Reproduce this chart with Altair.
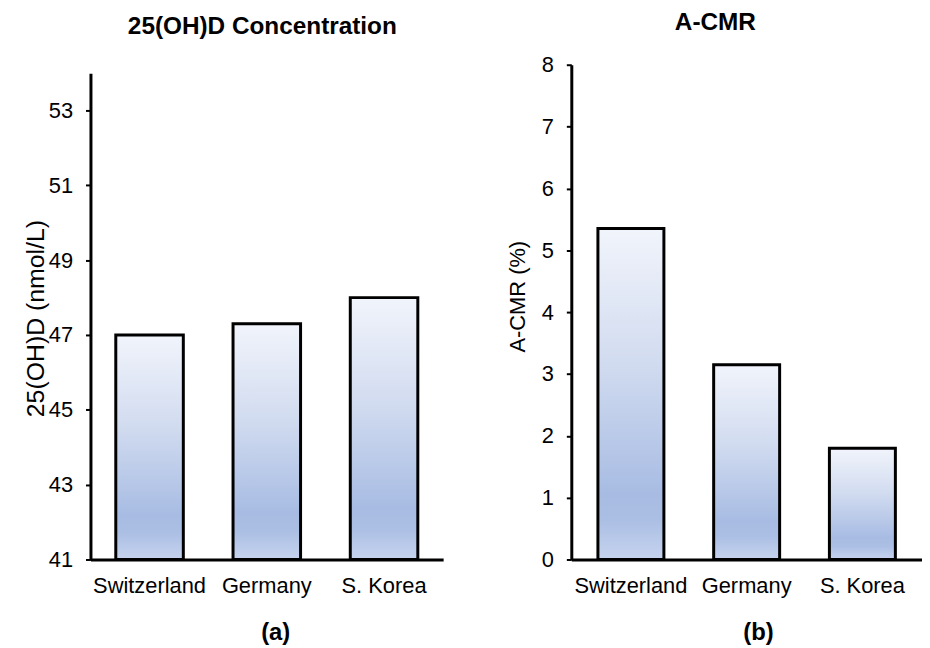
import altair as alt
import pandas as pd

countries = ["Switzerland", "Germany", "S. Korea"]
vitd_values = [47.0, 47.3, 48.0]
acmr_values = [5.35, 3.15, 1.8]
vitd_ticks = [41, 43, 45, 47, 49, 51, 53]
acmr_ticks = [0, 1, 2, 3, 4, 5, 6, 7, 8]

df_a = pd.DataFrame({"country": countries, "value": vitd_values})
df_b = pd.DataFrame({"country": countries, "value": acmr_values})

FONT = "Liberation Sans"

grad = alt.LinearGradient(
    gradient="linear",
    stops=[
        alt.GradientStop(offset=0.0, color="#f1f4fb"),
        alt.GradientStop(offset=0.4, color="#d2dcf0"),
        alt.GradientStop(offset=0.8, color="#a8bce3"),
        alt.GradientStop(offset=0.88, color="#abbfe4"),
        alt.GradientStop(offset=1.0, color="#c6d3ee"),
    ],
    x1=0, x2=0, y1=0, y2=1,
)

def panel(df, ytitle, ytitle_size, ytitle_pad, ytitle_y, domain, ticks, yrange,
          title, title_offset, title_dx, sub, sub_x, width, pi, po):
    x = alt.X(
        "country:N", sort=countries,
        scale=alt.Scale(paddingInner=pi, paddingOuter=po),
        axis=alt.Axis(
            title=sub, labelAngle=0, labelFontSize=22, labelFont=FONT, labelColor="black",
            labelPadding=16, ticks=False, grid=False, domainColor="black", domainWidth=3,
            titleFontSize=24, titleFont=FONT, titleFontWeight="bold", titleColor="black",
            titlePadding=25, titleX=sub_x, titleAnchor="start", titleAlign="center",
        ),
    )
    y = alt.Y(
        "value:Q",
        scale=alt.Scale(domain=domain, range=yrange, zero=False, nice=False),
        axis=alt.Axis(
            title=ytitle, values=ticks, grid=False, labelFontSize=22, labelFont=FONT,
            labelColor="black", labelPadding=13, tickSize=5, tickWidth=2, tickColor="black",
            domainColor="black", domainWidth=3, titleFontSize=ytitle_size, titleFont=FONT,
            titleFontWeight="normal", titleColor="black", titlePadding=ytitle_pad,
            titleY=ytitle_y,
        ),
    )
    return (
        alt.Chart(df)
        .mark_bar(fill=grad, stroke="black", strokeWidth=3)
        .encode(x=x, y=y, y2=alt.datum(domain[0]))
        .properties(
            width=width, height=498,
            view=alt.ViewBackground(stroke="transparent", strokeWidth=0),
            title=alt.TitleParams(
                text=title, fontSize=24.5, font=FONT, fontWeight="bold", color="black",
                frame="group", anchor="middle", offset=title_offset, dx=title_dx,
            ),
        )
    )

left = panel(df_a, "25(OH)D (nmol/L)", 25, 0, 255, [41, 54], vitd_ticks, [498, 8.5],
             "25(OH)D Concentration", 25, -4.5, "(a)", 186, 355, 0.424, 0.216)
right = panel(df_b, "A-CMR (%)", 22, 12, 233, [0, 8], acmr_ticks, [498, 0],
              "A-CMR", 18, -31.5, "(b)", 188, 353, 0.43, 0.23)

chart = (
    alt.hconcat(left, right, spacing=63)
    .properties(padding={"left": 15, "top": 0, "right": 0, "bottom": 0})
    .configure_view(strokeWidth=0, stroke="transparent")
    .configure(background="white", style={"cell": {"stroke": "transparent", "strokeWidth": 0}})
)

chart.save("out.html", embed_options={"renderer": "svg", "actions": False})
